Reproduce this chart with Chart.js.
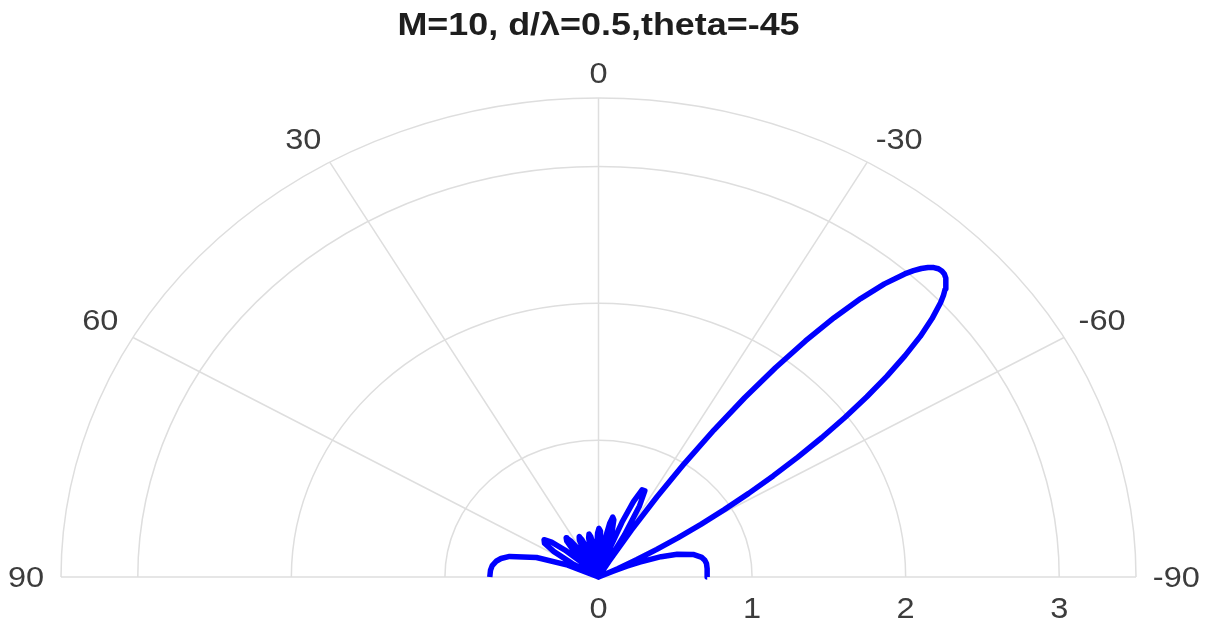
<!DOCTYPE html>
<html>
<head>
<meta charset="utf-8">
<script src="https://cdn.jsdelivr.net/npm/chart.js@4.4.1/dist/chart.umd.min.js"></script>
<style>
html,body{margin:0;padding:0;background:#ffffff;}
#wrap{width:1209px;height:626px;}
</style>
</head>
<body>
<div id="wrap"><canvas id="c" width="1209" height="626"></canvas></div>
<script>
// ---- data ----
const titleText = 'M=10, d/\u03bb=0.5,theta=-45';

// angle (degrees, 0 = up, positive = counter-clockwise / left)
const thetaDeg = [
  -90, -88, -85, -82, -80, -78, -75, -72, -70, -68, -67, -66, -65.11,
  -65, -64, -63, -62, -61, -60, -59, -58, -57, -56, -55, -54, -53, -52, -51, -50,
  -49, -48, -47.5, -47, -46.5, -46, -45.5, -45, -44.5, -44, -43.5, -43, -42.5, -42,
  -41, -40, -39, -38, -37, -36, -35, -34,
  -33, -32, -31, -30.47,
  -28.82, -27.20, -25.60, -24.02, -22.46, -20.92, -19.40, -17.88,
  -16.39, -14.90, -13.42, -11.95, -10.49, -9.04, -7.59, -6.15,
  -4.71, -3.27, -1.84, -0.41, 1.03, 2.46, 3.89, 5.33,
  6.77, 8.21, 9.67, 11.12, 12.59, 14.06, 15.54, 17.03,
  18.53, 20.05, 21.59, 23.13, 24.70, 26.29, 27.90, 29.53,
  31.19, 32.88, 34.60, 36.36, 38.16, 40.01, 41.90, 43.86,
  45.88, 47.98, 50.17, 52.46, 54.87, 57.44, 60.22, 63.24,
  66.62, 70.55, 75.45, 78, 80, 83.16, 86, 90
];
// beam-pattern magnitude at each angle
const rho = [
  0.708, 0.708, 0.710, 0.710, 0.703, 0.688, 0.638, 0.539, 0.434, 0.290, 0.201, 0.100, 0,
  0.013, 0.139, 0.278, 0.430, 0.594, 0.770, 0.956, 1.153, 1.356, 1.563, 1.774, 1.983, 2.188, 2.384, 2.567, 2.735,
  2.878, 2.998, 3.047, 3.087, 3.119, 3.143, 3.158, 3.162, 3.158, 3.143, 3.117, 3.082, 3.036, 2.980,
  2.838, 2.656, 2.438, 2.189, 1.915, 1.619, 1.313, 1.002,
  0.697, 0.404, 0.132, 0,
  0.350, 0.584, 0.698, 0.697, 0.598, 0.428, 0.218, 0,
  0.196, 0.344, 0.430, 0.447, 0.398, 0.294, 0.154, 0,
  0.146, 0.262, 0.335, 0.355, 0.322, 0.242, 0.129, 0,
  0.126, 0.230, 0.298, 0.320, 0.294, 0.224, 0.121, 0,
  0.121, 0.224, 0.294, 0.320, 0.298, 0.230, 0.126, 0,
  0.129, 0.242, 0.322, 0.355, 0.335, 0.262, 0.146, 0,
  0.154, 0.294, 0.398, 0.447, 0.430, 0.344, 0.196, 0,
  0.218, 0.428, 0.598, 0.649, 0.674, 0.697, 0.705, 0.708
];

const angleTicks = [90, 60, 30, 0, -30, -60, -90];
const angleTickLabels = ['90', '60', '30', '0', '-30', '-60', '-90'];
const radialTicks = [0, 1, 2, 3];
const radialTickLabels = ['0', '1', '2', '3'];
const rMax = 3.5;

// ---- drawing ----
const DEG = Math.PI / 180;
const points = thetaDeg.map((t, i) => ({
  x: -rho[i] * Math.sin(t * DEG),
  y: rho[i] * Math.cos(t * DEG)
}));

function geom(chart) {
  const xs = chart.scales.x, ys = chart.scales.y;
  const cx = xs.getPixelForValue(0), cy = ys.getPixelForValue(0);
  const Ry = cy - ys.getPixelForValue(rMax);
  const Rx = xs.getPixelForValue(rMax) - cx;
  return { xs, ys, cx, cy, Rx, Ry, s: Rx / Ry };
}

function stretchedText(ctx, text, x, y, s) {
  ctx.save();
  ctx.translate(x, y);
  ctx.scale(s, 1);
  ctx.fillText(text, 0, 0);
  ctx.restore();
}

const polarGrid = {
  id: 'polarGrid',
  beforeDatasetsDraw(chart) {
    const { xs, ys, cx, cy } = geom(chart);
    const ctx = chart.ctx;
    ctx.save();
    ctx.strokeStyle = '#dedede';
    ctx.lineWidth = 1.5;
    const rings = radialTicks.filter(r => r > 0).concat([rMax]);
    rings.forEach(r => {
      const rx = xs.getPixelForValue(r) - cx;
      const ry = cy - ys.getPixelForValue(r);
      ctx.beginPath();
      ctx.ellipse(cx, cy, rx, ry, 0, Math.PI, 2 * Math.PI);
      ctx.stroke();
    });
    angleTicks.forEach(a => {
      const px = xs.getPixelForValue(-rMax * Math.sin(a * DEG));
      const py = ys.getPixelForValue(rMax * Math.cos(a * DEG));
      ctx.beginPath();
      ctx.moveTo(cx, cy);
      ctx.lineTo(px, py);
      ctx.stroke();
    });
    ctx.restore();
  },
  afterDraw(chart) {
    const { xs, cx, cy, Ry, s } = geom(chart);
    const ctx = chart.ctx;
    ctx.save();
    // angle labels
    const fs = 29, capH = 0.716 * fs, pad = 15;
    ctx.font = fs + 'px "Liberation Sans", Arial, sans-serif';
    ctx.fillStyle = '#3c3c3c';
    ctx.textAlign = 'center';
    ctx.textBaseline = 'alphabetic';
    angleTicks.forEach((a, i) => {
      const t = angleTickLabels[i];
      const w = ctx.measureText(t).width;
      const ax = -(Ry + pad) * Math.sin(a * DEG);
      const ay = -(Ry + pad) * Math.cos(a * DEG);
      let ox = 0, oy = 0;
      if (a > 0) ox = -w / 2; else if (a < 0) ox = w / 2;
      if (Math.abs(a) < 90) oy = -capH / 2;
      const x = cx + s * (ax + ox);
      const y = cy + ay + oy + capH / 2;
      stretchedText(ctx, t, x, y, s);
    });
    // radial labels
    radialTicks.forEach((r, i) => {
      const x = xs.getPixelForValue(r);
      stretchedText(ctx, radialTickLabels[i], x, cy + 20 + capH, s);
    });
    // title
    ctx.font = 'bold 32px "Liberation Sans", Arial, sans-serif';
    ctx.fillStyle = '#1e1e1e';
    stretchedText(ctx, titleText, cx, 35, s);
    ctx.restore();
  }
};

new Chart(document.getElementById('c'), {
  type: 'scatter',
  data: {
    datasets: [{
      data: points,
      showLine: true,
      borderColor: '#0000ff',
      backgroundColor: '#0000ff',
      borderWidth: 5.5,
      borderJoinStyle: 'round',
      pointRadius: 0,
      pointHoverRadius: 0,
      tension: 0,
      fill: false,
      clip: false
    }]
  },
  options: {
    responsive: false,
    animation: false,
    devicePixelRatio: 1,
    layout: { padding: { left: 61, right: 73, top: 98, bottom: 49 } },
    scales: {
      x: { type: 'linear', min: -rMax, max: rMax, display: false },
      y: { type: 'linear', min: 0, max: rMax, display: false }
    },
    plugins: {
      legend: { display: false },
      tooltip: { enabled: false },
      title: { display: false }
    }
  },
  plugins: [polarGrid]
});
</script>
</body>
</html>
